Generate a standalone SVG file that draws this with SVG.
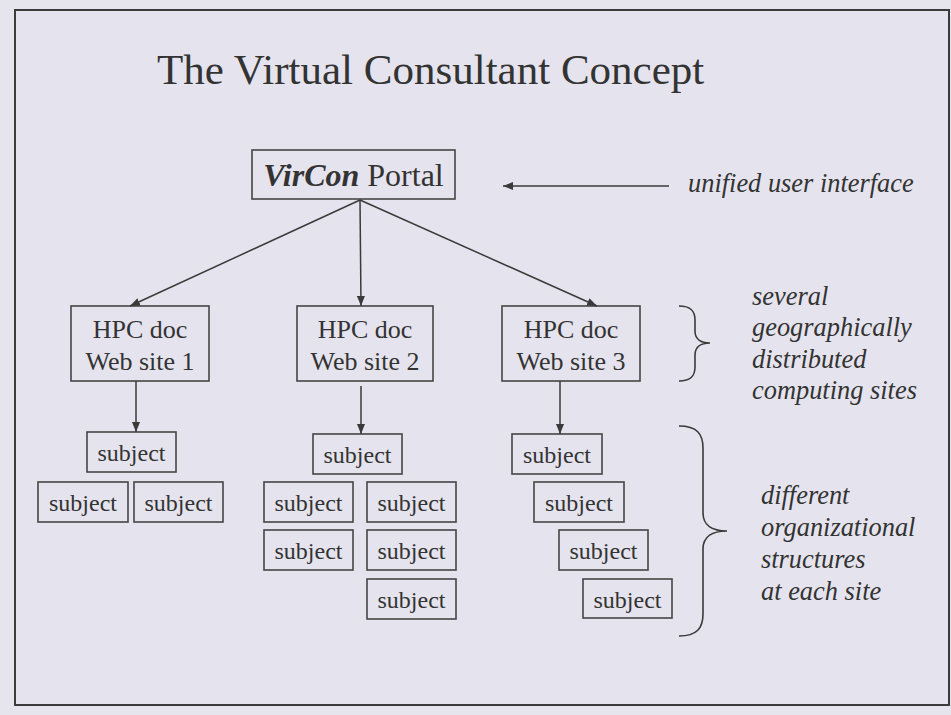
<svg xmlns="http://www.w3.org/2000/svg" width="951" height="715" viewBox="0 0 951 715" font-family="'Liberation Serif', 'DejaVu Serif', serif">
  <defs>
    <marker id="arrow" viewBox="0 0 10 8" refX="10" refY="4" markerWidth="10" markerHeight="8" markerUnits="userSpaceOnUse" orient="auto">
      <path d="M0,0 L10,4 L0,8 Z" fill="#3a3a3a"/>
    </marker>
    <style>
      text { font-family: 'Liberation Serif', 'DejaVu Serif', serif; fill: #333333; }
      .box { fill: none; stroke: #454545; stroke-width: 1.6; }
      .edge { fill: none; stroke: #3a3a3a; stroke-width: 1.5; marker-end: url(#arrow); }
      .brace { fill: none; stroke: #3a3a3a; stroke-width: 1.6; }
      .site { font-size: 26px; text-anchor: middle; }
      .subj { font-size: 24px; text-anchor: middle; }
      .note { font-size: 26.4px; font-style: italic; }
    </style>
  </defs>

  <!-- page background and frame -->
  <rect x="0" y="0" width="951" height="715" fill="#e6e5ee"/>
  <rect x="15" y="10" width="934" height="695" fill="#e5e4ee" stroke="#3c3c3c" stroke-width="2"/>

  <text x="157" y="84" font-size="43">The Virtual Consultant Concept</text>

  <!-- portal -->
  <g id="portal">
    <rect class="box" x="252" y="150" width="203" height="49"/>
    <text x="353.5" y="186" font-size="32" text-anchor="middle"><tspan font-weight="bold" font-style="italic">VirCon</tspan> Portal</text>
  </g>

  <!-- documentation sites -->
  <g id="site1">
    <rect class="box" x="71" y="306" width="138" height="75"/>
    <text class="site" x="140" y="338">HPC doc</text>
    <text class="site" x="140" y="370">Web site 1</text>
  </g>
  <g id="site2">
    <rect class="box" x="297" y="306" width="136" height="75"/>
    <text class="site" x="365" y="338">HPC doc</text>
    <text class="site" x="365" y="370">Web site 2</text>
  </g>
  <g id="site3">
    <rect class="box" x="502" y="306" width="138" height="75"/>
    <text class="site" x="571" y="338">HPC doc</text>
    <text class="site" x="571" y="370">Web site 3</text>
  </g>

  <!-- subjects of site 1 -->
  <g id="s1a"><rect class="box" x="87" y="432" width="89" height="40"/><text class="subj" x="131.5" y="461">subject</text></g>
  <g id="s1b"><rect class="box" x="38" y="482" width="90" height="40"/><text class="subj" x="83" y="511">subject</text></g>
  <g id="s1c"><rect class="box" x="134" y="482" width="89" height="40"/><text class="subj" x="178.5" y="511">subject</text></g>

  <!-- subjects of site 2 -->
  <g id="s2a"><rect class="box" x="313" y="434" width="89" height="40"/><text class="subj" x="357.5" y="463">subject</text></g>
  <g id="s2b"><rect class="box" x="264" y="482" width="89" height="40"/><text class="subj" x="308.5" y="511">subject</text></g>
  <g id="s2c"><rect class="box" x="264" y="530" width="89" height="40"/><text class="subj" x="308.5" y="559">subject</text></g>
  <g id="s2d"><rect class="box" x="367" y="482" width="89" height="40"/><text class="subj" x="411.5" y="511">subject</text></g>
  <g id="s2e"><rect class="box" x="367" y="530" width="89" height="40"/><text class="subj" x="411.5" y="559">subject</text></g>
  <g id="s2f"><rect class="box" x="367" y="579" width="89" height="40"/><text class="subj" x="411.5" y="608">subject</text></g>

  <!-- subjects of site 3 -->
  <g id="s3a"><rect class="box" x="512" y="434" width="90" height="40"/><text class="subj" x="557" y="463">subject</text></g>
  <g id="s3b"><rect class="box" x="534" y="482" width="90" height="40"/><text class="subj" x="579" y="511">subject</text></g>
  <g id="s3c"><rect class="box" x="559" y="530" width="89" height="40"/><text class="subj" x="603.5" y="559">subject</text></g>
  <g id="s3d"><rect class="box" x="583" y="579" width="89" height="39"/><text class="subj" x="627.5" y="608">subject</text></g>

  <!-- connectors -->
  <g id="connectors">
    <line class="edge" x1="360" y1="200" x2="130" y2="306"/>
    <line class="edge" x1="360" y1="200" x2="361" y2="306"/>
    <line class="edge" x1="360" y1="200" x2="597" y2="306"/>
    <line class="edge" x1="136" y1="381" x2="136" y2="432"/>
    <line class="edge" x1="361" y1="386" x2="361" y2="434"/>
    <line class="edge" x1="560" y1="381" x2="560" y2="434"/>
    <line class="edge" x1="669" y1="186" x2="503" y2="186"/>
  </g>

  <!-- braces -->
  <path class="brace" d="M679,306 C691,306 695,311 695,320 L695,331 C695,339 701,343 710,343 C701,343 695,347 695,355 L695,367 C695,376 691,381 679,381"/>
  <path class="brace" d="M679,426 C697,426 703,434 703,448 L703,513 C703,525 712,531 727,531 C712,531 703,537 703,549 L703,614 C703,628 697,636 679,636"/>

  <!-- annotations -->
  <text class="note" x="688" y="192">unified user interface</text>
  <text class="note" x="752" y="305">several</text>
  <text class="note" x="752" y="336">geographically</text>
  <text class="note" x="752" y="368">distributed</text>
  <text class="note" x="752" y="399">computing sites</text>
  <text class="note" x="761" y="504">different</text>
  <text class="note" x="761" y="536">organizational</text>
  <text class="note" x="761" y="568">structures</text>
  <text class="note" x="761" y="600">at each site</text>
</svg>
